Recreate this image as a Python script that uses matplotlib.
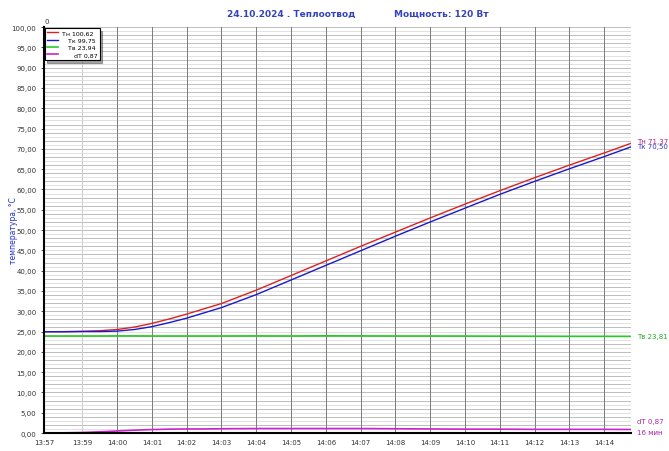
import numpy as np
from matplotlib import pyplot as plt

# minutes relative to 14:00
t = [-2.1, -1.5, -1.0, -0.5, 0.0, 0.5, 1.0, 1.5, 2.0, 2.5, 3.0, 4.0, 5.0, 6.0, 7.0,
     8.0, 9.0, 10.0, 11.0, 12.0, 13.0, 14.0, 14.77]
t_hot = [24.95, 24.98, 25.05, 25.2, 25.5, 26.1, 27.0, 28.1, 29.3, 30.6, 31.9, 35.2,
         38.8, 42.4, 46.0, 49.5, 53.0, 56.4, 59.7, 62.9, 66.0, 69.0, 71.37]
t_cold = [24.95, 24.95, 25.0, 25.0, 25.1, 25.5, 26.2, 27.2, 28.3, 29.6, 30.9, 34.1,
          37.7, 41.3, 44.9, 48.5, 52.0, 55.4, 58.8, 62.0, 65.1, 68.1, 70.50]
t_air = [23.9, 23.9, 23.9, 23.9, 23.92, 23.92, 23.9, 23.9, 23.9, 23.9, 23.9, 23.92,
         23.9, 23.94, 23.92, 23.9, 23.9, 23.88, 23.86, 23.84, 23.82, 23.82, 23.81]
dt = [0.0, 0.05, 0.12, 0.3, 0.5, 0.7, 0.85, 0.95, 1.0, 1.0, 1.05, 1.1, 1.1, 1.1, 1.1,
      1.05, 1.0, 0.95, 0.95, 0.9, 0.9, 0.9, 0.87]

xticks = [-2.1, -1, 0, 1, 2, 3, 4, 5, 6, 7, 8, 9, 10, 11, 12, 13, 14]
xlabels = ['13:57', '13:59', '14:00', '14:01', '14:02', '14:03', '14:04', '14:05',
           '14:06', '14:07', '14:08', '14:09', '14:10', '14:11', '14:12', '14:13', '14:14']

fig = plt.figure(figsize=(6.69, 4.52), dpi=100)
ax = fig.add_axes([0.0658, 0.0398, 0.8774, 0.898])

# grid
for y in range(1, 101):
    ax.axhline(y, color='#d4d4d4' if y % 2 else '#a4a4a4', lw=0.5, zorder=0)
for x in range(-1, 15):
    ax.axvline(x, color='#cccccc' if x == -1 else '#7a7a7a', lw=0.7, zorder=0)

ax.plot(t, t_air, color='#22cc22', lw=1.2, label='Тв 23,94')
ax.plot(t, t_hot, color='#dd2222', lw=1.0, label='Тн 100,62')
ax.plot(t, t_cold, color='#1a1acc', lw=1.0, label='Тк 99,75')
ax.plot(t[1:], dt[1:], color='#cc22cc', lw=1.2, label='dT 0,87')

ax.set_xlim(-2.1, 14.77)
ax.set_ylim(0, 100)
ax.set_yticks(np.arange(0, 101, 5))
ax.set_yticklabels([('%.2f' % v).replace('.', ',') for v in np.arange(0, 101, 5)])
ax.set_xticks(xticks)
ax.set_xticklabels(xlabels)
ax.tick_params(labelsize=5, colors='#333333', length=2, width=0.6)
ax.tick_params(axis='x', length=0, pad=4)
for s in ['top', 'right']:
    ax.spines[s].set_visible(False)
ax.spines['left'].set_linewidth(1.5)
ax.spines['bottom'].set_linewidth(1.5)
ax.set_ylabel('температура, °C', color='#2233cc', fontsize=5.5)
ax.yaxis.set_label_coords(-0.045, 0.5)

h, l = ax.get_legend_handles_labels()
order = [1, 2, 0, 3]
leg = ax.legend([h[i] for i in order], ['Тн 100,62', '   Тк 99,75', '   Тв 23,94', '      dT 0,87'],
                loc='upper left', bbox_to_anchor=(0.0, 1.0), fontsize=4.5, frameon=True,
                fancybox=False, shadow=True, handlelength=1.8, handletextpad=0.5,
                borderpad=0.4, borderaxespad=0.1, labelspacing=0.3,
                edgecolor='black', framealpha=1)
leg.get_frame().set_linewidth(0.8)

fig.text(0.435, 0.968, '24.10.2024 . Теплоотвод', ha='center', va='center',
         fontsize=6.5, fontweight='bold', color='#3344bb')
fig.text(0.66, 0.968, 'Мощность: 120 Вт', ha='center', va='center',
         fontsize=6.5, fontweight='bold', color='#3344bb')
fig.text(0.0658, 0.952, '0', fontsize=5, ha='left', va='center', color='#333333')

xe = 14.95
ax.text(xe, 71.9, 'Тн 71,37', fontsize=5, color='#aa2288', va='center', clip_on=False)
ax.text(xe, 70.6, 'Тк 70,50', fontsize=5, color='#3333bb', va='center', clip_on=False)
ax.text(xe, 23.8, 'Тв 23,81', fontsize=5, color='#22aa22', va='center', clip_on=False)
ax.text(xe, 3.0, 'dT 0,87', fontsize=5, color='#aa22aa', va='center', clip_on=False)
ax.text(xe, 0.2, '16 мин', fontsize=5, color='#aa22aa', va='center', clip_on=False)

plt.savefig('out.png', dpi=100)
